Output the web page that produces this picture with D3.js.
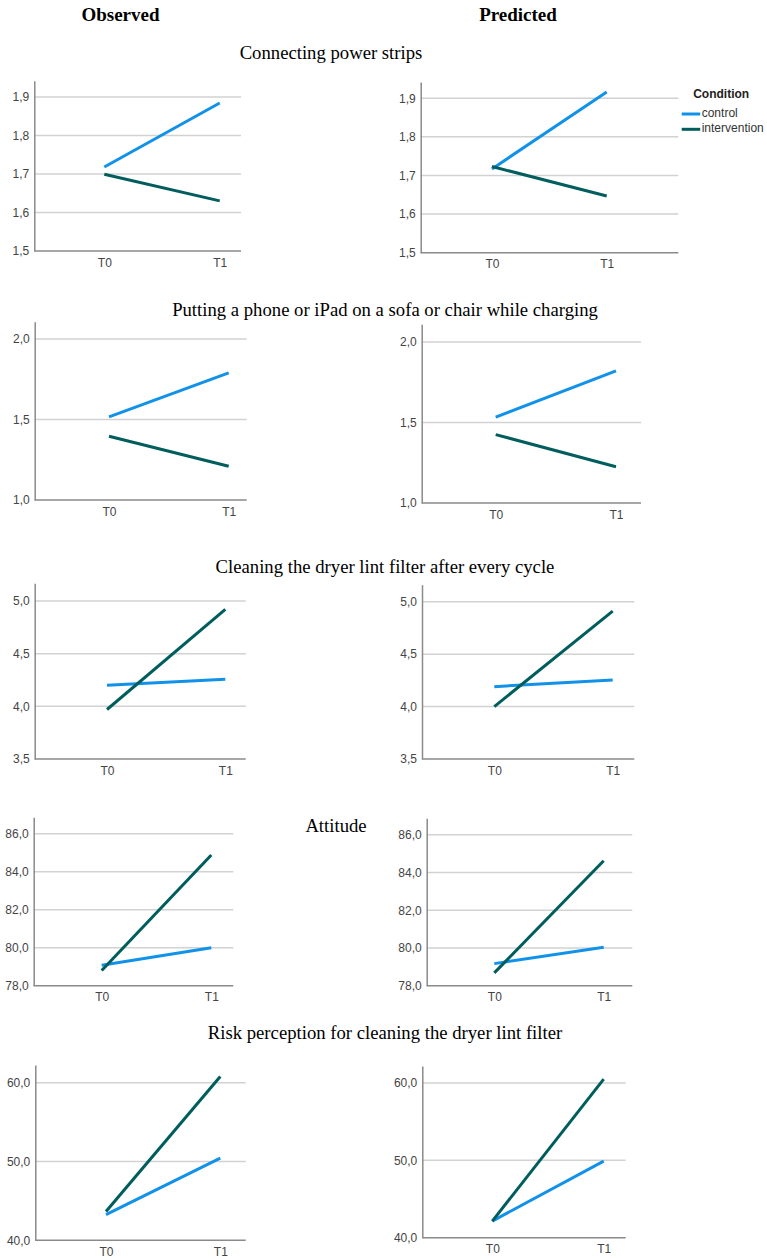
<!DOCTYPE html>
<html>
<head>
<meta charset="utf-8">
<script src="https://cdn.jsdelivr.net/npm/d3@7"></script>
<style>
  body { margin: 0; background: #fff; }
  svg { display: block; }
</style>
</head>
<body>
<script>
// categories
const times = ["T0", "T1"];
const conditions = ["control", "intervention"];
const columnTitles = ["Observed", "Predicted"];
const panelTitles = [
  "Connecting power strips",
  "Putting a phone or iPad on a sofa or chair while charging",
  "Cleaning the dryer lint filter after every cycle",
  "Attitude",
  "Risk perception for cleaning the dryer lint filter"
];

// y tick labels per row
const yTicks = [
  [1.5, 1.6, 1.7, 1.8, 1.9],
  [1.0, 1.5, 2.0],
  [3.5, 4.0, 4.5, 5.0],
  [78, 80, 82, 84, 86],
  [40, 50, 60]
];

// values, [T0, T1] per row
const observedControl = [[1.718, 1.884], [1.516, 1.789], [4.20, 4.256], [79.08, 80.0], [43.27, 50.42]];
const observedIntervention = [[1.699, 1.630], [1.396, 1.210], [3.97, 4.92], [78.8, 84.88], [43.65, 60.8]];
const predictedControl = [[1.717, 1.916], [1.534, 1.821], [4.19, 4.254], [79.17, 80.04], [42.15, 49.9]];
const predictedIntervention = [[1.723, 1.647], [1.425, 1.225], [4.0, 4.91], [78.68, 84.62], [42.15, 60.5]];

const colour = { control: "#1192e8", intervention: "#005d5d" };

// panel geometry: [observed, predicted] per row
const layout = [
  [{ left: 34.3, right: 241, top: 80.7, bottom: 251, t0: 104.3, t1: 219.7, yTop: 1.942 },
   { left: 420.7, right: 678.3, top: 82, bottom: 252.7, t0: 492, t1: 606.7, yTop: 1.942 }],
  [{ left: 34.7, right: 246.7, top: 321.7, bottom: 500, t0: 109, t1: 228.7, yTop: 2.107 },
   { left: 421.7, right: 641, top: 324.3, bottom: 503, t0: 495.7, t1: 616, yTop: 2.11 }],
  [{ left: 34.7, right: 245.7, top: 583.3, bottom: 759, t0: 107, t1: 225.3, yTop: 5.168 },
   { left: 422, right: 634.3, top: 584.7, bottom: 759, t0: 494.3, t1: 612.7, yTop: 5.162 }],
  [{ left: 33.7, right: 233.3, top: 817.3, bottom: 985.7, t0: 101.7, t1: 211.3, yTop: 86.86 },
   { left: 426.7, right: 632.3, top: 818.3, bottom: 985.7, t0: 494.3, t1: 603.7, yTop: 86.87 }],
  [{ left: 35.3, right: 245.7, top: 1065, bottom: 1240.3, t0: 106, t1: 220.3, yTop: 62.25 },
   { left: 422.3, right: 625.7, top: 1066, bottom: 1237.7, t0: 492.3, t1: 603.7, yTop: 62.2 }]
];
const titleX = [331, 385, 385, 336, 385];
const titleY = [59, 316, 573, 832, 1039];

const width = 767;
const height = 1259;
const sans = "'Liberation Sans', Arial, sans-serif";
const serif = "'Liberation Serif', 'Times New Roman', serif";

const fmt = (v) => d3.format(".1f")(v).replace(".", ",");

const svg = d3
  .select("body")
  .append("svg")
  .attr("width", width)
  .attr("height", height);

// column headings
svg
  .selectAll(".col-title")
  .data(columnTitles)
  .enter()
  .append("text")
  .attr("class", "col-title")
  .attr("x", (d, i) => (i === 0 ? 120.5 : 518))
  .attr("y", 20.5)
  .attr("text-anchor", "middle")
  .attr("font-family", serif)
  .attr("font-weight", "bold")
  .attr("font-size", "19px")
  .text((d) => d);

// row titles
svg
  .selectAll(".row-title")
  .data(panelTitles)
  .enter()
  .append("text")
  .attr("class", "row-title")
  .attr("x", (d, i) => titleX[i])
  .attr("y", (d, i) => titleY[i])
  .attr("text-anchor", "middle")
  .attr("font-family", serif)
  .attr("font-size", "18.7px")
  .text((d) => d);

function drawPanel(row, col, controlVals, interventionVals) {
  const L = layout[row][col];
  const ticks = yTicks[row];

  const xScale = d3.scalePoint().domain(times).range([L.t0, L.t1]);
  const yScale = d3
    .scaleLinear()
    .domain([ticks[0], L.yTop])
    .range([L.bottom, L.top]);

  const g = svg.append("g");

  // gridlines (skip the baseline)
  g.selectAll(".grid")
    .data(ticks.slice(1))
    .enter()
    .append("line")
    .attr("x1", L.left)
    .attr("x2", L.right)
    .attr("y1", (d) => yScale(d))
    .attr("y2", (d) => yScale(d))
    .attr("stroke", "#d2d2d2")
    .attr("stroke-width", 1.5);

  // y axis
  const yAxis = d3
    .axisLeft(yScale)
    .tickValues(ticks)
    .tickSize(0)
    .tickPadding(5)
    .tickFormat(fmt);
  const ya = g
    .append("g")
    .attr("transform", `translate(${L.left},0)`)
    .call(yAxis);
  ya.select(".domain").attr("stroke", "#8a8a8a").attr("stroke-width", 1.5);
  ya.selectAll("text")
    .attr("font-family", sans)
    .attr("font-size", "12px")
    .attr("fill", "#444");

  // x axis
  const xAxis = d3.axisBottom(xScale).tickSize(0).tickPadding(7);
  const xa = g
    .append("g")
    .attr("transform", `translate(0,${L.bottom})`)
    .call(xAxis);
  xa.select(".domain").remove();
  xa.append("line")
    .attr("x1", L.left)
    .attr("x2", L.right)
    .attr("stroke", "#8a8a8a")
    .attr("stroke-width", 1.5);
  xa.selectAll("text")
    .attr("font-family", sans)
    .attr("font-size", "12px")
    .attr("fill", "#444");

  // series lines
  const series = [
    { key: "control", values: controlVals[row] },
    { key: "intervention", values: interventionVals[row] }
  ];
  const line = d3
    .line()
    .x((d, i) => xScale(times[i]))
    .y((d) => yScale(d));
  g.selectAll(".series")
    .data(series)
    .enter()
    .append("path")
    .attr("d", (d) => line(d.values))
    .attr("fill", "none")
    .attr("stroke", (d) => colour[d.key])
    .attr("stroke-width", 3);
}

for (let r = 0; r < panelTitles.length; r++) {
  drawPanel(r, 0, observedControl, observedIntervention);
  drawPanel(r, 1, predictedControl, predictedIntervention);
}

// legend
const legend = svg.append("g").attr("transform", "translate(681.7,0)");
legend
  .append("text")
  .attr("x", 11.5)
  .attr("y", 98)
  .attr("font-family", sans)
  .attr("font-weight", "bold")
  .attr("font-size", "12px")
  .attr("fill", "#222")
  .text("Condition");
legend
  .selectAll(".key")
  .data(conditions)
  .enter()
  .append("line")
  .attr("x1", 0)
  .attr("x2", 18.5)
  .attr("y1", (d, i) => 114 + i * 15.3)
  .attr("y2", (d, i) => 114 + i * 15.3)
  .attr("stroke", (d) => colour[d])
  .attr("stroke-width", 3);
legend
  .selectAll(".key-label")
  .data(conditions)
  .enter()
  .append("text")
  .attr("x", 20)
  .attr("y", (d, i) => 114 + i * 15.3)
  .attr("dominant-baseline", "middle")
  .attr("font-family", sans)
  .attr("font-size", "12px")
  .attr("fill", "#333")
  .text((d) => d);
</script>
</body>
</html>
